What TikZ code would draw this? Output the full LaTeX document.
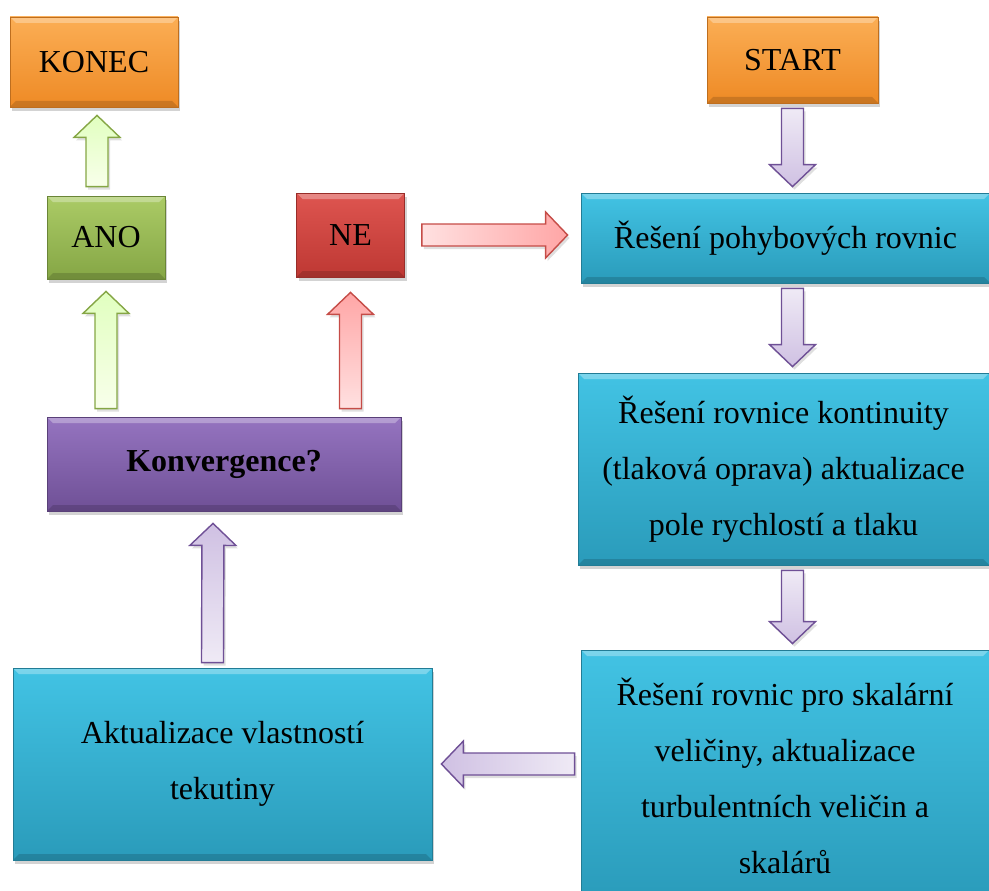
\documentclass[tikz,border=0pt]{standalone}
\usepackage{fontspec}
\setmainfont{Liberation Serif}
\usetikzlibrary{calc,shadows}

\definecolor{orangeA}{HTML}{FBAE55}
\definecolor{orangeB}{HTML}{EE8A25}
\definecolor{greenA}{HTML}{ABCB66}
\definecolor{greenB}{HTML}{85A645}
\definecolor{redA}{HTML}{DE5550}
\definecolor{redB}{HTML}{BE3833}
\definecolor{blueA}{HTML}{42C3E4}
\definecolor{blueB}{HTML}{2A9BBA}
\definecolor{violetA}{HTML}{9574C0}
\definecolor{violetB}{HTML}{6F5096}

\tikzset{
  bevel/.style={path picture={
    \fill[white,opacity=.3] (path picture bounding box.north west) -- (path picture bounding box.north east)
      -- ([xshift=-6pt,yshift=-6pt]path picture bounding box.north east) -- ([xshift=6pt,yshift=-6pt]path picture bounding box.north west) -- cycle;
    \fill[black,opacity=.15] (path picture bounding box.south west) -- (path picture bounding box.south east)
      -- ([xshift=-6pt,yshift=6pt]path picture bounding box.south east) -- ([xshift=6pt,yshift=6pt]path picture bounding box.south west) -- cycle;}},
  box/.style={draw=#1B!80!black,line width=.8pt,top color=#1A,bottom color=#1B,bevel,
    drop shadow={shadow xshift=2pt,shadow yshift=-4pt,opacity=.35},
    font=\fontsize{32}{56}\selectfont,align=center,inner sep=0pt},
  greenarr/.style={draw=greenB,line width=1.4pt,top color=green!30!lime!25,bottom color=green!10!lime!8,
    drop shadow={shadow xshift=2pt,shadow yshift=-3pt,opacity=.25}},
  redarr/.style={draw=redB!90,line width=1.4pt,top color=red!35,bottom color=red!12,
    drop shadow={shadow xshift=2pt,shadow yshift=-3pt,opacity=.25}},
  violetarr/.style={draw=violetB,line width=1.4pt,top color=violetA!45,bottom color=violetA!15,
    drop shadow={shadow xshift=2pt,shadow yshift=-3pt,opacity=.25}}
}

% block arrow: style, from, to, shading angle
\newcommand\blockarr[4]{%
  \coordinate (ba) at #2;
  \coordinate (bb) at #3;
  \coordinate (bh) at ($(bb)!22pt!(ba)$);
  \path[#1,shading angle=#4] ($(ba)!11pt!90:(bb)$) -- ($(bh)!11pt!90:(bb)$) -- ($(bh)!23pt!90:(bb)$) -- (bb)
    -- ($(bh)!23pt!-90:(bb)$) -- ($(bh)!11pt!-90:(bb)$) -- ($(ba)!11pt!-90:(bb)$) -- cycle;
}

\begin{document}
\begin{tikzpicture}[x=1pt,y=-1pt]
\useasboundingbox (0,0) rectangle (989,891);

\node[box=orange,minimum width=168,minimum height=90] (konec) at (94,62) {KONEC};
\node[box=orange,minimum width=171,minimum height=86] (start) at (792.5,60) {START};
\node[box=green,minimum width=118,minimum height=83] (ano) at (106,237.5) {ANO};
\node[box=red,minimum width=108,minimum height=84] (ne) at (350.5,235) {NE};
\node[box=blue,minimum width=409,minimum height=90] (pohyb) at (785.5,238) {Řešení pohybových rovnic};
\node[box=blue,minimum width=411,minimum height=192] (kont) at (783.5,469)
  {Řešení rovnice kontinuity\\ (tlaková oprava) aktualizace\\ pole rychlostí a tlaku};
\node[box=violet,minimum width=354,minimum height=94,font=\fontsize{32}{56}\selectfont\bfseries] (konv) at (224,464) {Konvergence?};
\node[box=blue,minimum width=419,minimum height=192] (aktual) at (222.5,764)
  {Aktualizace vlastností\\ tekutiny};
\node[box=blue,minimum width=408,minimum height=252] (skal) at (785,776)
  {Řešení rovnic pro skalární\\ veličiny, aktualizace\\ turbulentních veličin a\\ skalárů};

% process chain
\foreach \a/\b in {start/pohyb,pohyb/kont,kont/skal}
  {\blockarr{violetarr}{($(\a.south -| start)+(0,5)$)}{($(\b.north -| start)+(0,-6)$)}{180}}
\blockarr{violetarr}{($(aktual.east -| skal.west)+(-6,0)$)}{($(aktual.east)+(9,0)$)}{90}
\blockarr{violetarr}{($(aktual.north)+(-10,-5)$)}{($(konv.south)+(-11,12)$)}{0}

% decision
\blockarr{greenarr}{($(konv.north -| ano)+(0,-8)$)}{($(ano.south)+(0,12)$)}{0}
\blockarr{greenarr}{($(ano.north)+(-9,-9)$)}{($(ano.north |- konec.south)+(-9,8)$)}{0}
\blockarr{redarr}{($(konv.north -| ne)+(0,-8)$)}{($(ne.south)+(0,15)$)}{0}
\blockarr{redarr}{($(ne.east)+(17,0)$)}{($(pohyb.west |- ne)+(-13,0)$)}{-90}
\end{tikzpicture}
\end{document}
